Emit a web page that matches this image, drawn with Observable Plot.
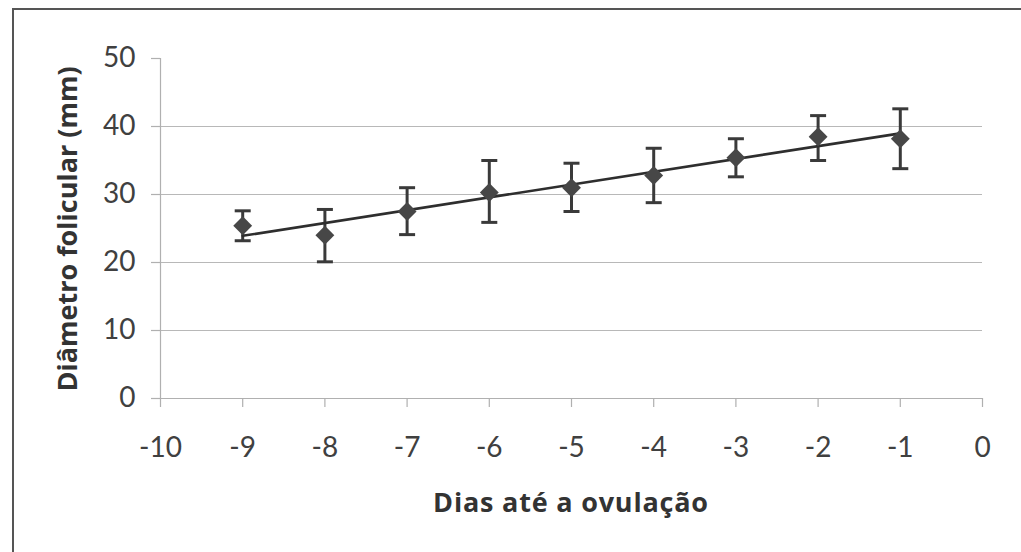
<!DOCTYPE html>
<html>
<head>
<meta charset="utf-8">
<script src="https://cdn.jsdelivr.net/npm/d3@7"></script>
<script src="https://cdn.jsdelivr.net/npm/@observablehq/plot@0.6"></script>
<style>
  html, body { margin: 0; padding: 0; background: #fff; }
  #wrap { position: relative; width: 1021px; height: 552px; overflow: hidden; font-family: Lato, "Open Sans", sans-serif; }
  #frame { position: absolute; left: 12px; top: 8px; width: 1100px; height: 600px; border-left: 2px solid #555; border-top: 2px solid #555; box-sizing: border-box; }
  #chart { position: absolute; left: 0; top: 0; }
  .xtitle { position: absolute; left: 160px; width: 822px; top: 488px; line-height: 1; text-align: center; font-family: "Open Sans", sans-serif; font-weight: bold; font-size: 27px; letter-spacing: 0.8px; color: #333; }
  .ytitle { position: absolute; left: 66px; top: 229px; line-height: 1; transform: translate(-50%, -50%) rotate(-90deg); white-space: nowrap; font-family: "Open Sans", sans-serif; font-weight: bold; font-size: 27px; color: #333; }
</style>
</head>
<body>
<div id="wrap">
  <div id="frame"></div>
  <div id="chart"></div>
  <div class="xtitle">Dias até a ovulação</div>
  <div class="ytitle">Diâmetro folicular (mm)</div>
</div>
<script>
const days = [-9, -8, -7, -6, -5, -4, -3, -2, -1];
const meanDiam = [25.4, 24.0, 27.5, 30.3, 31.0, 32.8, 35.4, 38.5, 38.2];
const upper = [27.6, 27.8, 31.0, 35.0, 34.6, 36.8, 38.2, 41.6, 42.6];
const lower = [23.2, 20.1, 24.1, 25.9, 27.5, 28.8, 32.6, 35.0, 33.8];
const xTicks = [-10, -9, -8, -7, -6, -5, -4, -3, -2, -1, 0];
const yTicks = [0, 10, 20, 30, 40, 50];
const gridY = [10, 20, 30, 40];

const data = days.map((d, i) => ({x: d, y: meanDiam[i], hi: upper[i], lo: lower[i]}));

const cap = {
  draw(ctx, size) {
    const w = 8;
    ctx.moveTo(-w, 0);
    ctx.lineTo(w, 0);
  }
};

const ink = "#3a3a3a";

const chart = Plot.plot({
  width: 1021,
  height: 552,
  marginLeft: 160,
  marginRight: 39,
  marginTop: 58,
  marginBottom: 154,
  style: {fontFamily: "Lato, 'Open Sans', sans-serif", background: "transparent", overflow: "visible"},
  x: {domain: [-10, 0]},
  y: {domain: [0, 50]},
  marks: [
    Plot.ruleY(gridY, {stroke: "#b8b8b8", strokeWidth: 1.2}),
    Plot.ruleX([-10], {y1: 0, y2: 50, stroke: "#b0b0b0", strokeWidth: 1.2}),
    Plot.ruleY([0], {stroke: "#b0b0b0", strokeWidth: 1.2}),
    Plot.axisY({ticks: yTicks, tickSize: 9, tickPadding: 16, stroke: "#b0b0b0", strokeWidth: 1.2, fill: "#404040", fontSize: 28, label: null, tickFormat: d3.format("d")}),
    Plot.axisX({ticks: xTicks, tickSize: 9, tickPadding: 30, stroke: "#b0b0b0", strokeWidth: 1.2, fill: "#404040", fontSize: 28, label: null, tickFormat: d => String(d)}),
    Plot.ruleX(data, {x: "x", y1: "lo", y2: "hi", stroke: ink, strokeWidth: 3}),
    Plot.dot(data, {x: "x", y: "hi", symbol: cap, stroke: ink, strokeWidth: 3, r: 5}),
    Plot.dot(data, {x: "x", y: "lo", symbol: cap, stroke: ink, strokeWidth: 3, r: 5}),
    Plot.linearRegressionY(data, {x: "x", y: "y", ci: 0, stroke: "#2e2e2e", strokeWidth: 2.6}),
    Plot.dot(data, {x: "x", y: "y", symbol: "diamond2", r: 8.5, fill: "#474747", stroke: "none"})
  ]
});
document.getElementById("chart").appendChild(chart);
</script>
</body>
</html>
